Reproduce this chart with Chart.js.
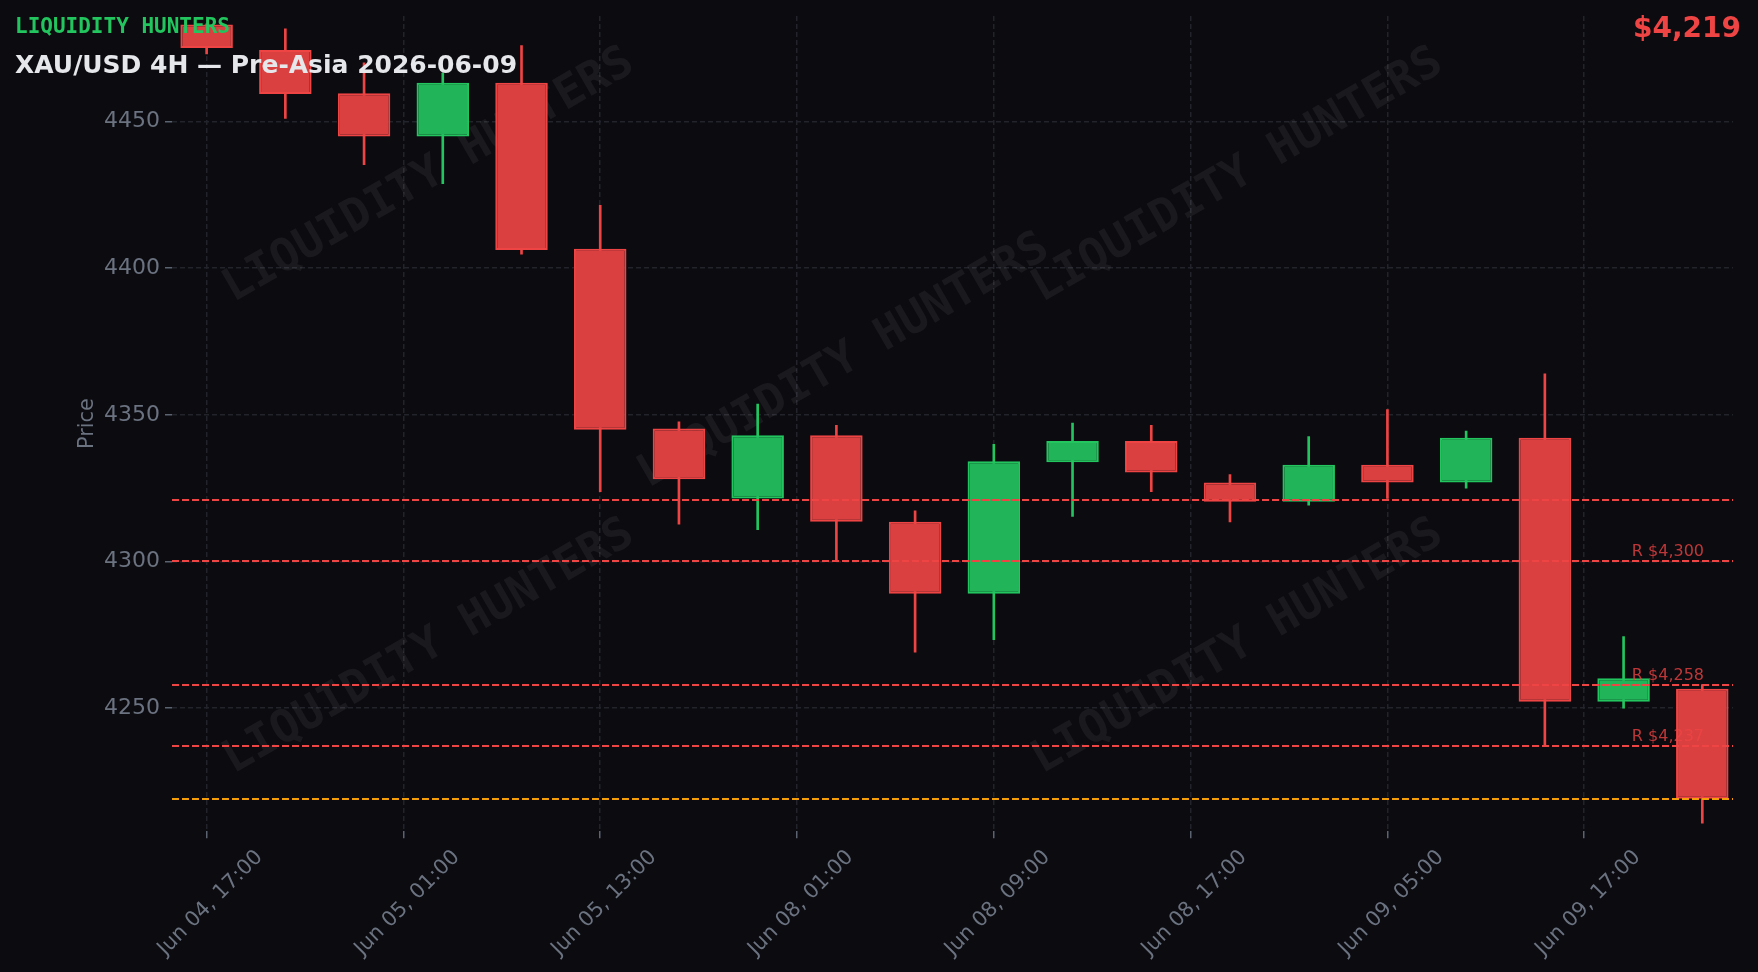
<!DOCTYPE html>
<html lang="en">
<head>
<meta charset="UTF-8">
<title>XAU/USD 4H — Pre-Asia 2026-06-09</title>
<script src="https://cdn.jsdelivr.net/npm/chart.js"></script>
<style>
  html, body { margin: 0; padding: 0; background: #0b0b10; }
  #candleChart { display: block; }
</style>
</head>
<body>
<canvas id="candleChart" width="1758" height="972"></canvas>
<script>
// 4H candles, Jun 04 -> Jun 09
const opens  = [4483.1, 4474.4, 4459.7, 4444.9, 4463.2, 4406.6, 4345.3, 4321.5, 4343.0, 4313.5,
                4289.0, 4333.8, 4341.1, 4326.9, 4320.4, 4333.0, 4326.9, 4342.2, 4252.2, 4256.6];
const highs  = [4483.3, 4481.6, 4470.0, 4466.5, 4475.9, 4421.4, 4347.6, 4353.7, 4346.4, 4317.3,
                4339.9, 4347.2, 4346.4, 4329.6, 4342.6, 4351.8, 4344.5, 4364.0, 4274.4, 4258.0];
const lows   = [4473.1, 4451.1, 4435.3, 4428.8, 4404.8, 4323.8, 4312.7, 4310.8, 4300.5, 4269.1,
                4273.3, 4315.4, 4323.8, 4313.5, 4319.2, 4321.5, 4325.0, 4237.3, 4250.0, 4210.8];
const closes = [4475.1, 4459.4, 4444.9, 4463.2, 4406.2, 4344.9, 4328.0, 4343.0, 4313.5, 4289.0,
                4334.2, 4341.1, 4330.3, 4320.4, 4333.0, 4326.9, 4342.2, 4252.2, 4260.2, 4219.1];

// x-axis ticks (position in candle index units)
const tickPos    = [0, 2.5, 5, 7.5, 10, 12.5, 15, 17.5];
const tickLabels = ['Jun 04, 17:00', 'Jun 05, 01:00', 'Jun 05, 13:00', 'Jun 08, 01:00',
                    'Jun 08, 09:00', 'Jun 08, 17:00', 'Jun 09, 05:00', 'Jun 09, 17:00'];

// resistance levels
const levels      = [4321, 4300, 4258, 4237];
const levelLabels = ['', 'R $4,300', 'R $4,258', 'R $4,237'];

const UP = '#22c55e', DOWN = '#ef4444';
const UP_FILL = '#21b458', DOWN_FILL = '#da4040';
const GRID = '#23242b', TICK = '#5b6270', LABEL = '#6b7280';
const FONT = 'DejaVu Sans';

const idx = opens.map((_, i) => i);
const isUp = i => closes[i] >= opens[i];

// watermark spots as fractions of the canvas
const markSpots = [[0.244, 0.181], [0.480, 0.372], [0.704, 0.181], [0.244, 0.666], [0.704, 0.666]];

const overlay = {
  id: 'overlay',
  beforeDatasetsDraw(chart) {
    const { ctx } = chart;
    ctx.save();
    ctx.font = 'bold 45.5px "DejaVu Sans Mono"';
    ctx.fillStyle = 'rgba(255,255,255,0.06)';
    ctx.textAlign = 'center';
    ctx.textBaseline = 'middle';
    markSpots.forEach(([fx, fy]) => {
      ctx.save();
      ctx.translate(fx * chart.width, fy * chart.height);
      ctx.rotate(-30 * Math.PI / 180);
      ctx.fillText('LIQUIDITY HUNTERS', 0, 0);
      ctx.restore();
    });
    ctx.restore();
  },
  afterDatasetsDraw(chart) {
    const { ctx, chartArea: a, scales: { y } } = chart;
    ctx.save();
    ctx.lineWidth = 2;
    ctx.setLineDash([7, 3]);
    // resistance lines
    levels.forEach((lv, i) => {
      const py = Math.round(y.getPixelForValue(lv));
      ctx.strokeStyle = DOWN;
      ctx.beginPath();
      ctx.moveTo(a.left, py);
      ctx.lineTo(a.right, py);
      ctx.stroke();
      if (levelLabels[i]) {
        ctx.font = '16px "' + FONT + '"';
        ctx.fillStyle = 'rgba(239,68,68,0.78)';
        ctx.textAlign = 'right';
        ctx.textBaseline = 'bottom';
        ctx.fillText(levelLabels[i], a.right - 29, py - 1);
      }
    });
    // last price line
    const last = closes[closes.length - 1];
    const pl = Math.round(y.getPixelForValue(last));
    ctx.strokeStyle = '#f59e0b';
    ctx.beginPath();
    ctx.moveTo(a.left, pl);
    ctx.lineTo(a.right, pl);
    ctx.stroke();
    ctx.restore();
  },
  afterDraw(chart) {
    const { ctx } = chart;
    const last = closes[closes.length - 1];
    ctx.save();
    ctx.textBaseline = 'alphabetic';
    ctx.textAlign = 'left';
    ctx.fillStyle = UP;
    ctx.font = 'bold 21px "DejaVu Sans Mono"';
    ctx.fillText('LIQUIDITY HUNTERS', 15, 33);
    ctx.fillStyle = '#e5e7eb';
    ctx.font = 'bold 25px "' + FONT + '"';
    ctx.fillText('XAU/USD 4H — Pre-Asia 2026-06-09', 15, 73);
    ctx.textAlign = 'right';
    ctx.fillStyle = DOWN;
    ctx.font = 'bold 28px "' + FONT + '"';
    ctx.fillText('$' + Math.round(last).toLocaleString('en-US'), 1741, 37);
    ctx.restore();
  }
};

const ctx = document.getElementById('candleChart').getContext('2d');
new Chart(ctx, {
  type: 'bar',
  data: {
    datasets: [
      {
        label: 'body',
        data: idx.map(i => ({ x: i, y: [opens[i], closes[i]] })),
        backgroundColor: c => isUp(c.dataIndex) ? UP_FILL : DOWN_FILL,
        borderColor: c => isUp(c.dataIndex) ? UP : DOWN,
        borderWidth: 2,
        borderSkipped: false,
        barPercentage: 0.667,
        categoryPercentage: 1,
        grouped: false,
        order: 0
      },
      {
        label: 'wick',
        data: idx.map(i => ({ x: i, y: [lows[i], highs[i]] })),
        backgroundColor: c => isUp(c.dataIndex) ? UP : DOWN,
        borderWidth: 0,
        barThickness: 2,
        grouped: false,
        order: 1
      }
    ]
  },
  options: {
    responsive: false,
    devicePixelRatio: 1,
    animation: false,
    layout: { padding: { left: 71, top: 16, right: 25, bottom: 4 } },
    plugins: { legend: { display: false }, tooltip: { enabled: false } },
    scales: {
      x: {
        type: 'linear',
        min: -0.44,
        max: 19.39,
        offset: false,
        grid: { color: GRID, lineWidth: 1.5, offset: false, tickLength: 7, tickColor: TICK, tickWidth: 1.5 },
        border: { display: false, dash: [5, 3] },
        ticks: {
          autoSkip: false,
          minRotation: 45,
          maxRotation: 45,
          padding: 7,
          labelOffset: 53,
          color: LABEL,
          font: { family: FONT, size: 20.8 },
          callback: (v, i) => tickLabels[i]
        },
        afterBuildTicks: s => { s.ticks = tickPos.map(v => ({ value: v })); },
        afterFit: s => { s.paddingLeft = 0; s.paddingRight = 0; }
      },
      y: {
        min: 4208,
        max: 4486,
        grid: { color: GRID, lineWidth: 1.5, tickLength: 7, tickColor: TICK, tickWidth: 1.5 },
        border: { display: false, dash: [5, 3] },
        ticks: {
          stepSize: 50,
          includeBounds: false,
          padding: 5,
          color: LABEL,
          font: { family: FONT, size: 22 },
          callback: v => String(v)
        },
        title: {
          display: true,
          text: 'Price',
          color: LABEL,
          font: { family: FONT, size: 20.8, lineHeight: 1 },
          padding: { top: 6.6, bottom: 0.6 }
        },
        afterFit: s => { s.paddingTop = 0; s.paddingBottom = 0; }
      }
    }
  },
  plugins: [overlay]
});
</script>
</body>
</html>
